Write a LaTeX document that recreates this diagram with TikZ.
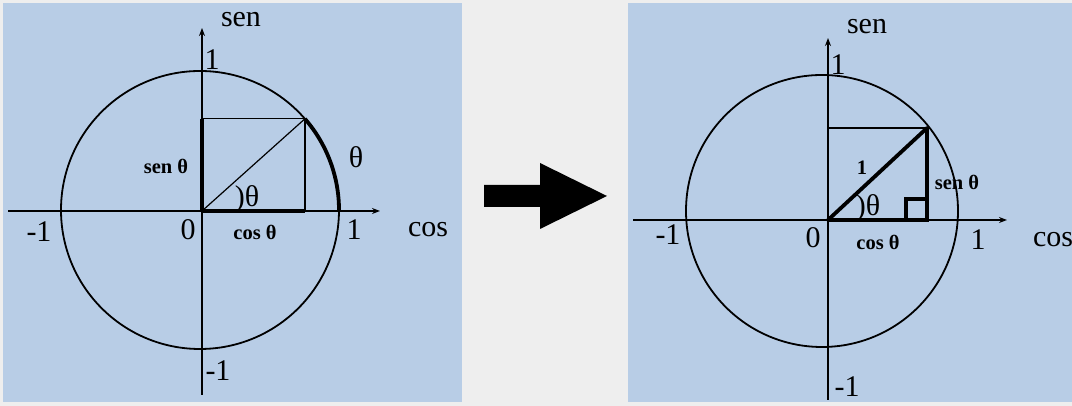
\documentclass[tikz,border=0pt]{standalone}
\usepackage{fontspec}
\setmainfont{Liberation Serif}
\usepackage{tikz}
\usetikzlibrary{arrows.meta, calc}

\definecolor{panelblue}{RGB}{184,205,230}
\definecolor{pagegray}{RGB}{238,238,238}

\begin{document}
\begin{tikzpicture}[
  x=1pt, y=1pt,
  panel/.style={fill=panelblue, draw=none},
  axis/.style={line width=1.6pt, -{Stealth[length=8pt, width=6pt]}},
  guide/.style={line width=1.2pt},
  heavy/.style={line width=3.8pt},
  ring/.style={line width=1.8pt},
  lbl/.style={font=\fontsize{30}{30}\selectfont, inner sep=0pt},
  slbl/.style={font=\fontsize{20.5}{20.5}\selectfont\bfseries, inner sep=0pt}
]
% page and the two panels
\fill[pagegray] (0,0) rectangle (1072,406);
\useasboundingbox (0,0) rectangle (1072,406);
\fill[panel] (3,4) rectangle (462,403);
\fill[panel] (628,4) rectangle (1072,403);

% ---- left circle
\coordinate (o1) at (202,195);
\coordinate (c1) at (200,196);
\coordinate (p1) at ($(c1)+(41:139)$);
\coordinate (xl1) at (8,195);
\coordinate (xr1) at (380,195);
\coordinate (yb1) at (202,11);
\coordinate (yt1) at (202,378);
\coordinate (s1) at (o1 |- p1);
\coordinate (k1) at (p1 |- o1);
\coordinate (a1) at ($(c1)+(0:139)$);

\draw[ring] (c1) circle[radius=139];
\draw[axis] (xl1) -- (xr1);
\draw[axis] (yb1) -- (yt1);
\draw[guide] (s1) -- (p1) -- (k1);
\draw[guide] (o1) -- (p1);
\draw[heavy] (o1) -- (s1);
\draw[heavy] (o1) -- (k1);
\draw[heavy] (a1) arc[start angle=0, end angle=41, radius=139];

\node[lbl] (sen1) at (241,386) {sen};
\node[lbl] (one1) at (212,346) {1};
\node[slbl] (sent1) at (166,240) {sen θ};
\node[lbl] (arct1) at (356,249) {θ};
\node[lbl] (ang1) at (247,207) {)θ};
\node[lbl] (zero1) at (188,176) {0};
\node[slbl] (cost1) at (255,174) {cos θ};
\node[lbl] (onex1) at (354,176) {1};
\node[lbl] (cos1) at (428,176) {cos};
\node[lbl] (mx1) at (39,174) {-1};
\node[lbl] (my1) at (218,35) {-1};

% ---- arrow between the panels
\fill (484,221) -- (540,221) -- (540,243) -- (607,210) -- (540,177)
  -- (540,199) -- (484,199) -- cycle;

% ---- right circle
\coordinate (o2) at (828,186);
\coordinate (c2) at (822,195);
\coordinate (p2) at (927,278);
\coordinate (xl2) at (633,186);
\coordinate (xr2) at (1007,186);
\coordinate (yb2) at (828,6);
\coordinate (yt2) at (828,368);
\coordinate (s2) at (o2 |- p2);
\coordinate (k2) at (p2 |- o2);

\draw[ring] (c2) circle[radius=136];
\draw[axis] (xl2) -- (xr2);
\draw[axis] (yb2) -- (yt2);
\draw[guide] (s2) -- (p2);
\draw[heavy, line join=round] (o2) -- (p2) -- (k2) -- cycle;
\draw[heavy] ($(k2)+(-21,0)$) rectangle ($(k2)+(0,21)$);

\node[lbl] (sen2) at (867,379) {sen};
\node[lbl] (one2) at (838,341) {1};
\node[slbl] (hyp2) at (862,238) {1};
\node[slbl] (sent2) at (957,224) {sen θ};
\node[lbl] (ang2) at (868,198) {)θ};
\node[lbl] (zero2) at (813,168) {0};
\node[slbl] (cost2) at (878,164) {cos θ};
\node[lbl] (onex2) at (978,166) {1};
\node[lbl] (cos2) at (1053,166) {cos};
\node[lbl] (mx2) at (668,171) {-1};
\node[lbl] (my2) at (847,19) {-1};
\end{tikzpicture}
\end{document}
